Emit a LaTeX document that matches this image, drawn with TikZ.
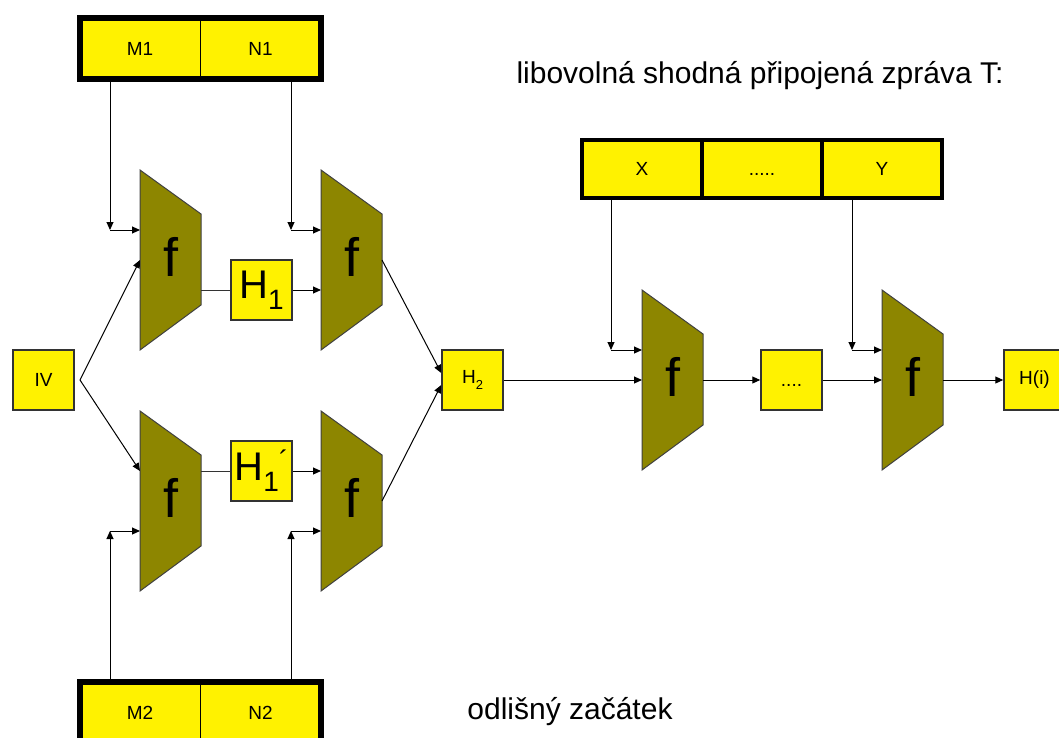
\documentclass[tikz,border=0pt]{standalone}
\usepackage{fontspec}
\setmainfont{Liberation Sans}
\usetikzlibrary{arrows.meta,calc}

\begin{document}
\begin{tikzpicture}[x=1pt,y=-1pt,
  arr/.style={-{Triangle[length=8pt,width=7pt]}, line width=1pt},
  spoj/.style={line width=1pt, black!80},
  blok/.style={draw=black!80, line width=1.5pt, fill=yellow, minimum width=61pt, minimum height=60pt, inner sep=0pt, font=\fontsize{19}{19}\selectfont},
  bunka/.style={draw, fill=yellow, minimum width=120.5pt, minimum height=61pt, inner sep=0pt, font=\fontsize{19}{19}\selectfont},
  fblok/.style={fill=olive, draw=black!75, line width=1pt},
  popis/.style={font=\fontsize{30}{30}\selectfont, anchor=base}]
\useasboundingbox (0,0) rectangle (1059,738);
\clip (0,0) rectangle (1059,738);

% Bloky f
\foreach \n/\x/\y in {f1/140/170, f2/321/170, f3/140/411, f4/321/411, f5/642/290, f6/882/290}{
  \filldraw[fblok] (\x,\y) -- ++(61,44) -- ++(0,91) -- ++(-61,45) -- cycle;
  \node[font=\fontsize{54}{54}\selectfont] (\n) at (\x+31,\y+87) {f};
  \coordinate (\n-a) at (\x,\y+60);
  \coordinate (\n-b) at (\x,\y+90);
  \coordinate (\n-c) at (\x,\y+120);
  \coordinate (\n-p) at (\x+61,\y+60);
  \coordinate (\n-q) at (\x+61,\y+90);
}

% Zpravy
\node[bunka] (M1) at (140,48.5) {M1};
\node[bunka] (N1) at (260.5,48.5) {N1};
\draw[line width=6pt] (M1.north west) rectangle (N1.south east);
\node[bunka] (M2) at (140,712.5) {M2};
\node[bunka] (N2) at (260.5,712.5) {N2};
\draw[line width=6pt] (M2.north west) rectangle (N2.south east);
\node[bunka, line width=4pt, minimum width=120pt, minimum height=58pt] (X) at (642,169) {X};
\node[bunka, line width=4pt, minimum width=120pt, minimum height=58pt] (T) at (762,169) {\vphantom{X}.....};
\node[bunka, line width=4pt, minimum width=120pt, minimum height=58pt] (Y) at (882,169) {Y};

% Mezivysledky
\node[blok] (IV) at (43.5,380) {IV};
\node[blok, font=\fontsize{40}{40}\selectfont] (H1) at (261.5,290) {H\raisebox{-11pt}{\fontsize{28}{28}\selectfont 1}};
\node[blok, font=\fontsize{40}{40}\selectfont] (H1c) at (261.5,471) {H\raisebox{-11pt}{\fontsize{28}{28}\selectfont 1}\raisebox{10pt}{\fontsize{28}{28}\selectfont ´}};
\node[blok] (H2) at (472.5,380) {H\raisebox{-6pt}{\fontsize{13}{13}\selectfont 2}};
\node[blok] (D) at (791.5,380) {\vphantom{H}....};
\node[blok] (Hi) at (1034.5,380) {H(i)};

% Rohy
\coordinate (iv) at (80,380);
\coordinate (m1) at (110,230);
\coordinate (n1) at (291,230);
\coordinate (m2) at (110,531);
\coordinate (n2) at (291,531);
\coordinate (x) at (611,350);
\coordinate (y) at (852,350);

% Spoje
\draw[arr] (M1.south -| m1) -- (m1);
\draw[arr] (m1) -- (f1-a);
\draw[arr] (N1.south -| n1) -- (n1);
\draw[arr] (n1) -- (f2-a);
\draw[arr] (M2.north -| m2) -- (m2);
\draw[arr] (m2) -- (f3-c);
\draw[arr] (N2.north -| n2) -- (n2);
\draw[arr] (n2) -- (f4-c);
\draw[arr] (iv) -- (f1-b);
\draw[arr] (iv) -- (f3-a);
\draw[spoj] (f1-c -| f1-q) -- (H1.west);
\draw[arr] (H1.east) -- (f2-c);
\draw[spoj] (f3-p) -- (H1c.west);
\draw[arr] (H1c.east) -- (f4-a);
\draw[arr] (f2-q) -- ([yshift=7pt]H2.west);
\draw[arr] (f4-q) -- ([yshift=-5pt]H2.west);
\draw[arr] (X.south -| x) -- (x);
\draw[arr] (x) -- (f5-a);
\draw[arr] (Y.south -| y) -- (y);
\draw[arr] (y) -- (f6-a);
\draw[arr] (H2.east) -- (f5-b);
\draw[arr] (f5-q) -- (D.west);
\draw[arr] (D.east) -- (f6-b);
\draw[arr] (f6-q) -- (Hi.west);

% Popisky
\node[popis] (shoda) at (760,84) {libovolná shodná připojená zpráva T:};
\node[popis] (zacatek) at (570,719) {odlišný začátek};
\end{tikzpicture}
\end{document}
